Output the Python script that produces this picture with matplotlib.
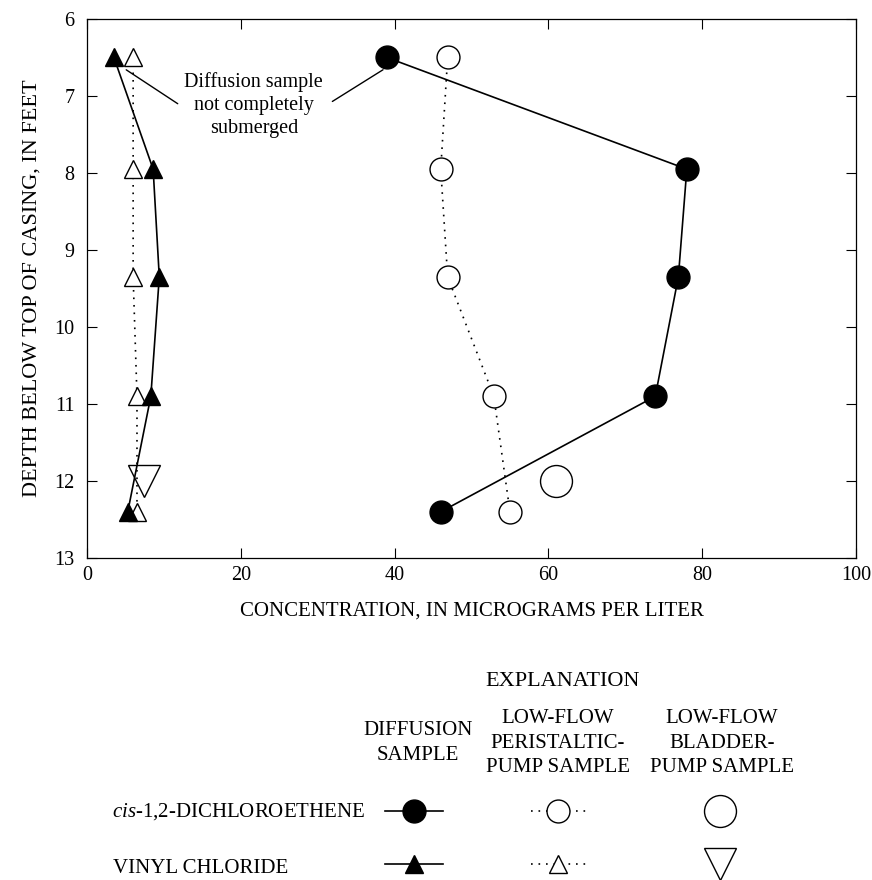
import matplotlib
matplotlib.use("Agg")
import matplotlib.pyplot as plt

plt.rcParams['font.family'] = ['Liberation Serif', 'DejaVu Serif']
plt.rcParams['mathtext.fontset'] = 'custom'
plt.rcParams['mathtext.rm'] = 'Liberation Serif'
plt.rcParams['mathtext.it'] = 'Liberation Serif:italic'

# depth below top of casing (feet)
depth = [6.5, 7.95, 9.35, 10.9, 12.4]
bladder_depth = [12.0]

# cis-1,2-dichloroethene (ug/L)
cis_diffusion = [39.0, 78.0, 76.9, 73.9, 46.0]
cis_peristaltic = [46.9, 46.0, 46.9, 52.9, 55.0]
cis_bladder = [61.0]

# vinyl chloride (ug/L)
vc_diffusion = [3.5, 8.6, 9.4, 8.3, 5.3]
vc_peristaltic = [6.0, 6.0, 6.0, 6.5, 6.5]
vc_bladder = [7.4]

x_ticks = [0, 20, 40, 60, 80, 100]
y_ticks = [6, 7, 8, 9, 10, 11, 12, 13]

W, H = 872, 880
fig = plt.figure(figsize=(W / 100, H / 100), dpi=100)
ax = fig.add_axes([87 / W, 1 - 558 / H, (856 - 87) / W, (558 - 19) / H])

dots = (1, 3.5)
ax.plot(cis_peristaltic, depth, color='black', lw=1.2, dashes=dots,
        marker='o', ms=16.5, mfc='white', mec='black', mew=1.0, zorder=2)
ax.plot(vc_peristaltic, depth, color='black', lw=1.2, dashes=dots,
        marker='^', ms=12.5, mfc='white', mec='black', mew=1.0, zorder=2)
ax.plot(cis_diffusion, depth, color='black', lw=1.2,
        marker='o', ms=16.5, mfc='black', mec='black', zorder=3)
ax.plot(vc_diffusion, depth, color='black', lw=1.2,
        marker='^', ms=13, mfc='black', mec='black', zorder=3)
ax.plot(cis_bladder, bladder_depth, ls='none', marker='o', ms=23,
        mfc='none', mec='black', mew=1.0, zorder=4)
ax.plot(vc_bladder, bladder_depth, ls='none', marker='v', ms=23,
        mfc='none', mec='black', mew=1.0, zorder=4)

ax.set_xlim(0, 100)
ax.set_ylim(13, 6)
ax.set_xticks(x_ticks)
ax.set_yticks(y_ticks)
ax.tick_params(direction='in', top=True, right=True, length=7, width=0.8,
               labelsize=14.5)
ax.tick_params(axis='x', pad=6)
ax.tick_params(axis='y', pad=9)
for s in ax.spines.values():
    s.set_linewidth(0.9)

ax.set_xlabel('CONCENTRATION, IN MICROGRAMS PER LITER', fontsize=15, labelpad=12)
ax.set_ylabel('DEPTH BELOW TOP OF CASING, IN FEET', fontsize=16, labelpad=9)

ax.text(21.7, 7.12, 'Diffusion sample\nnot completely\nsubmerged', ha='center',
        va='center', fontsize=14.5, linespacing=1.3)
ax.annotate('', xy=(4.8, 6.64), xytext=(12.1, 7.12),
            arrowprops=dict(arrowstyle='-', lw=1.0, color='black'))
ax.annotate('', xy=(38.8, 6.64), xytext=(31.6, 7.09),
            arrowprops=dict(arrowstyle='-', lw=1.0, color='black'))

# explanation block, in pixel coordinates
lg = fig.add_axes([0, 0, 1, 1])
lg.set_xlim(0, W)
lg.set_ylim(H, 0)
lg.axis('off')

fs = 15
lg.text(563, 686, 'EXPLANATION', ha='center', va='baseline', fontsize=16)

col_x = [418, 558, 722]
headers = [['DIFFUSION', 'SAMPLE'],
           ['LOW-FLOW', 'PERISTALTIC-', 'PUMP SAMPLE'],
           ['LOW-FLOW', 'BLADDER-', 'PUMP SAMPLE']]
for cx, lines in zip(col_x, headers):
    base = 735 if len(lines) == 2 else 723
    for i, t in enumerate(lines):
        lg.text(cx, base + 24.5 * i, t, ha='center', va='baseline', fontsize=fs)

row1, row2 = 811, 864
lg.text(365, 817, r'$\mathit{cis}$-1,2-DICHLOROETHENE', ha='right',
        va='baseline', fontsize=fs)
lg.text(113, 873, 'VINYL CHLORIDE', ha='left', va='baseline', fontsize=fs)

lg.plot([385, 443], [row1, row1], color='black', lw=1.2)
lg.plot([414], [row1], marker='o', ms=16.5, color='black')
lg.plot([385, 443], [row2, row2], color='black', lw=1.2)
lg.plot([414], [row2], marker='^', ms=13, color='black')

lg.plot([531, 586], [row1, row1], color='black', lw=1.2, dashes=dots)
lg.plot([558], [row1], marker='o', ms=16.5, mfc='white', mec='black', mew=1.0)
lg.plot([531, 586], [row2, row2], color='black', lw=1.2, dashes=dots)
lg.plot([558], [row2], marker='^', ms=12.5, mfc='white', mec='black', mew=1.0)

lg.plot([720], [row1], marker='o', ms=23, mfc='none', mec='black', mew=1.0)
lg.plot([720], [row2], marker='v', ms=23, mfc='none', mec='black', mew=1.0)

fig.savefig('out.png', dpi=100)
